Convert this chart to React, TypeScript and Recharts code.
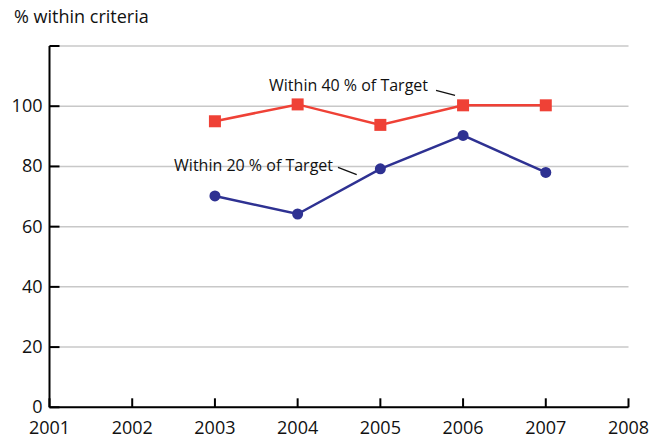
import { LineChart, Line, XAxis, YAxis, CartesianGrid, ReferenceLine, ReferenceDot } from "recharts";

const years = [2003, 2004, 2005, 2006, 2007];
const within40 = [95.0, 100.6, 93.8, 100.3, 100.3];
const within20 = [70.2, 64.2, 79.2, 90.3, 78.0];
const xTicks = [2001, 2002, 2003, 2004, 2005, 2006, 2007, 2008];
const yTicks = [0, 20, 40, 60, 80, 100, 120];

const RED = "#ef4136";
const BLUE = "#2e3192";
const FONT = "'Open Sans', sans-serif";

const data = years.map((year, i) => ({ year, w40: within40[i], w20: within20[i] }));

function YTick(props: any) {
  const { x, y, payload } = props;
  const axisX = x + 7;
  return (
    <g>
      <line x1={axisX} x2={axisX + 10} y1={y} y2={y} stroke="#000" strokeWidth={2} />
      {payload.value !== 120 && (
        <text x={x} y={y + 6} textAnchor="end" fontSize={18} fontFamily={FONT} fill="#111">
          {payload.value}
        </text>
      )}
    </g>
  );
}

function XTick(props: any) {
  const { x, y, payload } = props;
  const axisY = y - 4;
  return (
    <g>
      <line x1={x} x2={x} y1={axisY} y2={axisY - 9} stroke="#000" strokeWidth={2} />
      <text x={x} y={axisY + 27} textAnchor="middle" fontSize={18} fontFamily={FONT} fill="#111">
        {payload.value}
      </text>
    </g>
  );
}

function Note({ cx, cy, text }: any) {
  return (
    <text x={cx} y={cy} textAnchor="end" fontSize={16} fontFamily={FONT} fill="#111">
      {text}
    </text>
  );
}

export default function App() {
  return (
    <div style={{ position: "absolute", left: 0, top: 0, width: 663, height: 441, background: "#fff" }}>
      <div style={{ position: "absolute", left: 14, top: 4, fontSize: 18, fontFamily: FONT, color: "#111" }}>
        % within criteria
      </div>
      <LineChart width={663} height={441} data={data} margin={{ top: 46, right: 34.5, left: 0, bottom: 4 }}>
        <CartesianGrid horizontal vertical={false} stroke="#c8c8c8" strokeWidth={1.5} />
        <XAxis
          dataKey="year"
          type="number"
          domain={[2001, 2008]}
          ticks={xTicks}
          height={29.7}
          tickSize={0}
          tickMargin={4}
          tickLine={false}
          axisLine={{ stroke: "#000", strokeWidth: 2 }}
          tick={<XTick />}
          interval={0}
        />
        <YAxis
          type="number"
          domain={[0, 120]}
          ticks={yTicks}
          width={49.5}
          tickSize={0}
          tickMargin={7}
          tickLine={false}
          axisLine={{ stroke: "#000", strokeWidth: 2 }}
          tick={<YTick />}
          interval={0}
        />
        <ReferenceLine
          segment={[{ x: 2005.673, y: 105.3 }, { x: 2005.903, y: 103.6 }]}
          stroke="#111"
          strokeWidth={1.3}
        />
        <ReferenceLine
          segment={[{ x: 2004.488, y: 79.7 }, { x: 2004.714, y: 77.3 }]}
          stroke="#111"
          strokeWidth={1.3}
        />
        <ReferenceDot x={2005.576} y={104.9} r={0} shape={(p: any) => <Note {...p} text="Within 40 % of Target" />} />
        <ReferenceDot x={2004.428} y={78.4} r={0} shape={(p: any) => <Note {...p} text="Within 20 % of Target" />} />
        <Line
          dataKey="w40"
          stroke={RED}
          strokeWidth={2.5}
          isAnimationActive={false}
          dot={(p: any) => (
            <rect key={`sq-${p.index}`} x={p.cx - 6} y={p.cy - 6} width={12} height={12} fill={RED} />
          )}
        />
        <Line
          dataKey="w20"
          stroke={BLUE}
          strokeWidth={2.5}
          isAnimationActive={false}
          dot={{ r: 5.5, fill: BLUE, stroke: BLUE, strokeWidth: 0 }}
        />
      </LineChart>
    </div>
  );
}
